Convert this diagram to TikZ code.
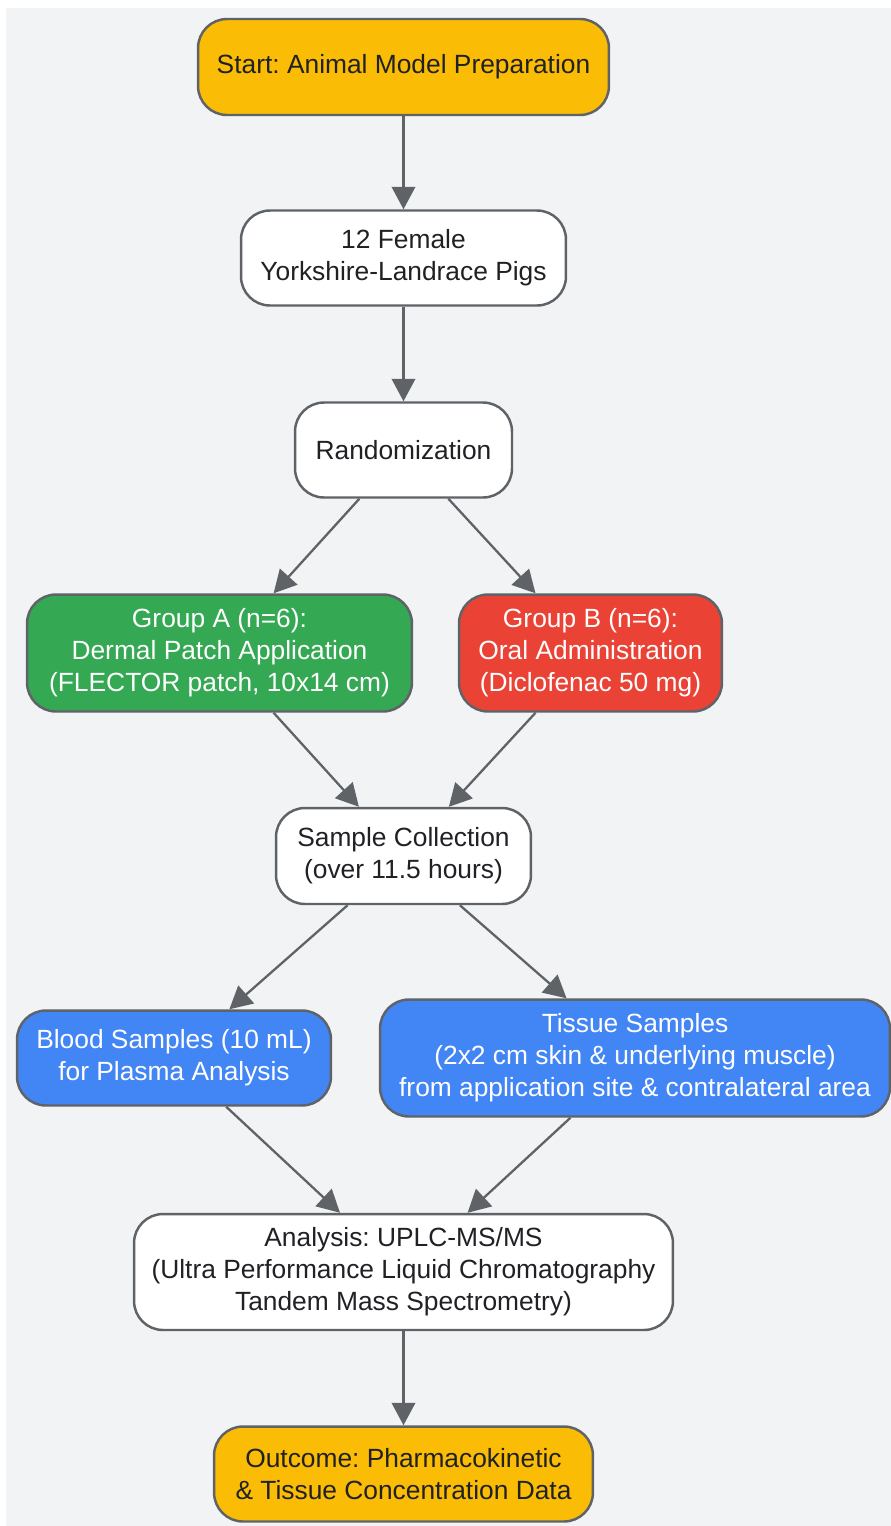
\documentclass[tikz,border=0pt]{standalone}
\usepackage{tikz}
\usetikzlibrary{arrows.meta, positioning}
\usepackage{fontspec}
\setmainfont{Liberation Sans}
\usepackage{xcolor}
\definecolor{bggray}{HTML}{F1F3F4}
\definecolor{linegray}{HTML}{5F6368}
\definecolor{darktext}{HTML}{202124}
\definecolor{gyellow}{HTML}{FBBC05}
\definecolor{ggreen}{HTML}{34A853}
\definecolor{gred}{HTML}{EA4335}
\definecolor{gblue}{HTML}{4285F4}
\frenchspacing
\tikzset{
    box/.style = {rectangle, rounded corners=0.58cm, draw=linegray, line width=1.4pt, fill=white, text=darktext, align=center, inner sep=0pt, font=\fontsize{15}{18.2}\selectfont},
    terminal/.style = {box, fill=gyellow},
    groupa/.style = {box, fill=ggreen, text=white},
    groupb/.style = {box, fill=gred, text=white},
    sample/.style = {box, fill=gblue, text=white},
    flow/.style = {line width=1.3pt, linegray, -{Triangle[length=0.45cm, width=0.47cm]}}
}

\begin{document}
\begin{tikzpicture}[x=0.02cm, y=-0.02cm]
  \useasboundingbox (0,0) rectangle (891,1526);
  \fill[bggray] (6,8) rectangle (891,1526);

  \node[terminal, minimum width=8.22cm, minimum height=1.92cm] (start) at (403.5,67) {Start: Animal Model Preparation};
  \node[box, minimum width=6.5cm, minimum height=1.9cm] (pigs) at (403.5,258) {12 Female\\Yorkshire-Landrace Pigs};
  \node[box, minimum width=4.34cm, minimum height=1.9cm] (rand) at (403.5,450) {Randomization};
  \node[groupa, minimum width=7.7cm, minimum height=2.34cm] (grpA) at (219.5,653) {Group A (n=6):\\Dermal Patch Application\\(FLECTOR patch, 10x14 cm)};
  \node[groupb, minimum width=5.26cm, minimum height=2.34cm] (grpB) at (590.5,653) {Group B (n=6):\\Oral Administration\\(Diclofenac 50 mg)};
  \node[box, minimum width=5.1cm, minimum height=1.92cm] (collect) at (403.5,856) {Sample Collection\\(over 11.5 hours)};
  \node[sample, minimum width=6.28cm, minimum height=1.9cm] (blood) at (174,1058) {Blood Samples (10 mL)\\for Plasma Analysis};
  \node[sample, minimum width=10.2cm, minimum height=2.34cm] (tissue) at (635,1058) {Tissue Samples\\(2x2 cm skin \& underlying muscle)\\from application site \& contralateral area};
  \node[box, minimum width=10.78cm, minimum height=2.32cm] (uplc) at (403.5,1272) {Analysis: UPLC-MS/MS\\(Ultra Performance Liquid Chromatography\\Tandem Mass Spectrometry)};
  \node[terminal, minimum width=7.58cm, minimum height=1.9cm] (outcome) at (403.5,1474) {Outcome: Pharmacokinetic\\\& Tissue Concentration Data};

  \draw[flow] (start) -- (pigs);
  \draw[flow] (pigs) -- (rand);
  \draw[flow] (rand) -- (grpA);
  \draw[flow] (rand) -- (grpB);
  \draw[flow] (grpA) -- (collect);
  \draw[flow] (grpB) -- (collect);
  \draw[flow] (collect) -- (blood);
  \draw[flow] (collect) -- (tissue);
  \draw[flow] (blood) -- (uplc);
  \draw[flow] (tissue) -- (uplc);
  \draw[flow] (uplc) -- (outcome);
\end{tikzpicture}
\end{document}
